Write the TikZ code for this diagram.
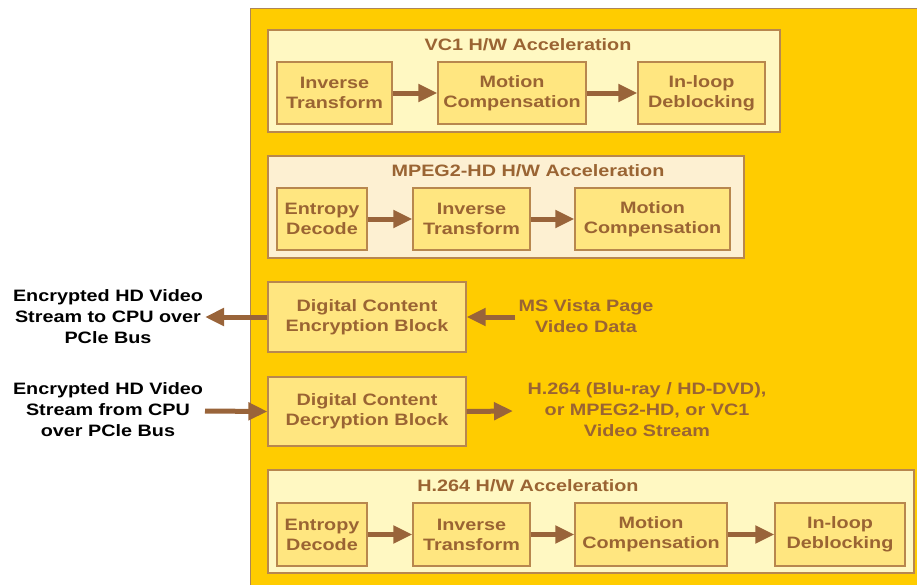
\documentclass[tikz,border=0pt]{standalone}
\usepackage{fontspec}
\setmainfont{Liberation Sans}[FakeStretch=1.2]
\usetikzlibrary{arrows.meta}
\definecolor{bgor}{HTML}{FFCC00}
\definecolor{cream}{HTML}{FFF8C2}
\definecolor{creamb}{HTML}{FDF0D2}
\definecolor{inner}{HTML}{FFE680}
\definecolor{txt}{HTML}{9A6433}
\definecolor{edge}{HTML}{B8874E}
\definecolor{arr}{HTML}{99643A}
\tikzset{
  grp/.style={draw=edge, line width=1.2pt, fill=cream, minimum width=#1, inner sep=0pt},
  blk/.style={draw=edge, line width=1.2pt, fill=inner, text=txt, font=\bfseries\fontsize{16.5}{20}\selectfont, align=center, inner sep=0pt, minimum height=62pt},
  ttl/.style={text=txt, font=\bfseries\fontsize{16.5}{20}\selectfont, inner sep=0pt},
  lbl/.style={font=\bfseries\fontsize{16.5}{21}\selectfont, align=center, inner sep=0pt},
  fat/.style={draw=arr, line width=5pt, -{Triangle[length=19pt,width=17pt]}},
}
\begin{document}
\begin{tikzpicture}[x=1pt,y=-1pt]
\useasboundingbox (0,0) rectangle (917,584);
\begin{scope}
\clip (0,0) rectangle (917,584);
\draw[draw=edge!80!gray, line width=1pt, fill=bgor] (250,8) rectangle (940,600);
\end{scope}
% VC1
\node[grp=512pt, minimum height=102pt] (vc1) at (524,81) {};
\node[ttl] (vc1t) at (528,45) {VC1 H/W Acceleration};
\node[blk, minimum width=115pt] (v1) at (334.5,93) {Inverse\\Transform};
\node[blk, minimum width=148pt] (v2) at (512,93) {Motion\\Compensation};
\node[blk, minimum width=127pt] (v3) at (701.5,93) {In-loop\\Deblocking};
\draw[fat] (v1) -- (v2);
\draw[fat] (v2) -- (v3);
% MPEG2
\node[grp=476pt, minimum height=102pt, fill=creamb] (mp) at (506,207) {};
\node[ttl] (mpt) at (528,171) {MPEG2-HD H/W Acceleration};
\node[blk, minimum width=90pt] (m1) at (322,219) {Entropy\\Decode};
\node[blk, minimum width=117pt] (m2) at (471.5,219) {Inverse\\Transform};
\node[blk, minimum width=155pt] (m3) at (652.5,219) {Motion\\Compensation};
\draw[fat] (m1) -- (m2);
\draw[fat] (m2) -- (m3);
% Encryption
\node[blk, minimum width=198pt, minimum height=70pt] (enc) at (367,317) {Digital Content\\Encryption Block};
\node[lbl, text=txt] (ms) at (586,316) {MS Vista Page\\Video Data};
\node[lbl, text=black] (encl) at (108,317) {Encrypted HD Video\\Stream to CPU over\\PCle Bus};
\coordinate (msa) at (515,317);
\coordinate (encend) at (205,317);
\draw[fat] (msa) -- (enc.east);
\draw[fat] (enc.west) -- (encend);
% Decryption
\node[blk, minimum width=198pt, minimum height=69pt] (dec) at (367,411.5) {Digital Content\\Decryption Block};
\node[lbl, text=txt] (h264s) at (647,410) {H.264 (Blu-ray / HD-DVD),\\or MPEG2-HD, or VC1\\Video Stream};
\node[lbl, text=black] (decl) at (108,410) {Encrypted HD Video\\Stream from CPU\\over PCle Bus};
\coordinate (decst) at (205,411);
\coordinate (decen) at (513,411);
\draw[fat] (decst) -- (dec.west);
\draw[fat] (dec.east) -- (decen);
% H.264
\node[grp=646pt, minimum height=103pt] (h2) at (591,521.5) {};
\node[ttl] (h2t) at (528,486) {H.264 H/W Acceleration};
\node[blk, minimum width=90pt, minimum height=63pt] (h1) at (322,534.5) {Entropy\\Decode};
\node[blk, minimum width=117pt, minimum height=63pt] (h2b) at (471.5,534.5) {Inverse\\Transform};
\node[blk, minimum width=152pt, minimum height=63pt] (h3) at (651,534.5) {Motion\\Compensation};
\node[blk, minimum width=130pt, minimum height=63pt] (h4) at (840,534.5) {In-loop\\Deblocking};
\draw[fat] (h1) -- (h2b);
\draw[fat] (h2b) -- (h3);
\draw[fat] (h3) -- (h4);
\end{tikzpicture}
\end{document}
